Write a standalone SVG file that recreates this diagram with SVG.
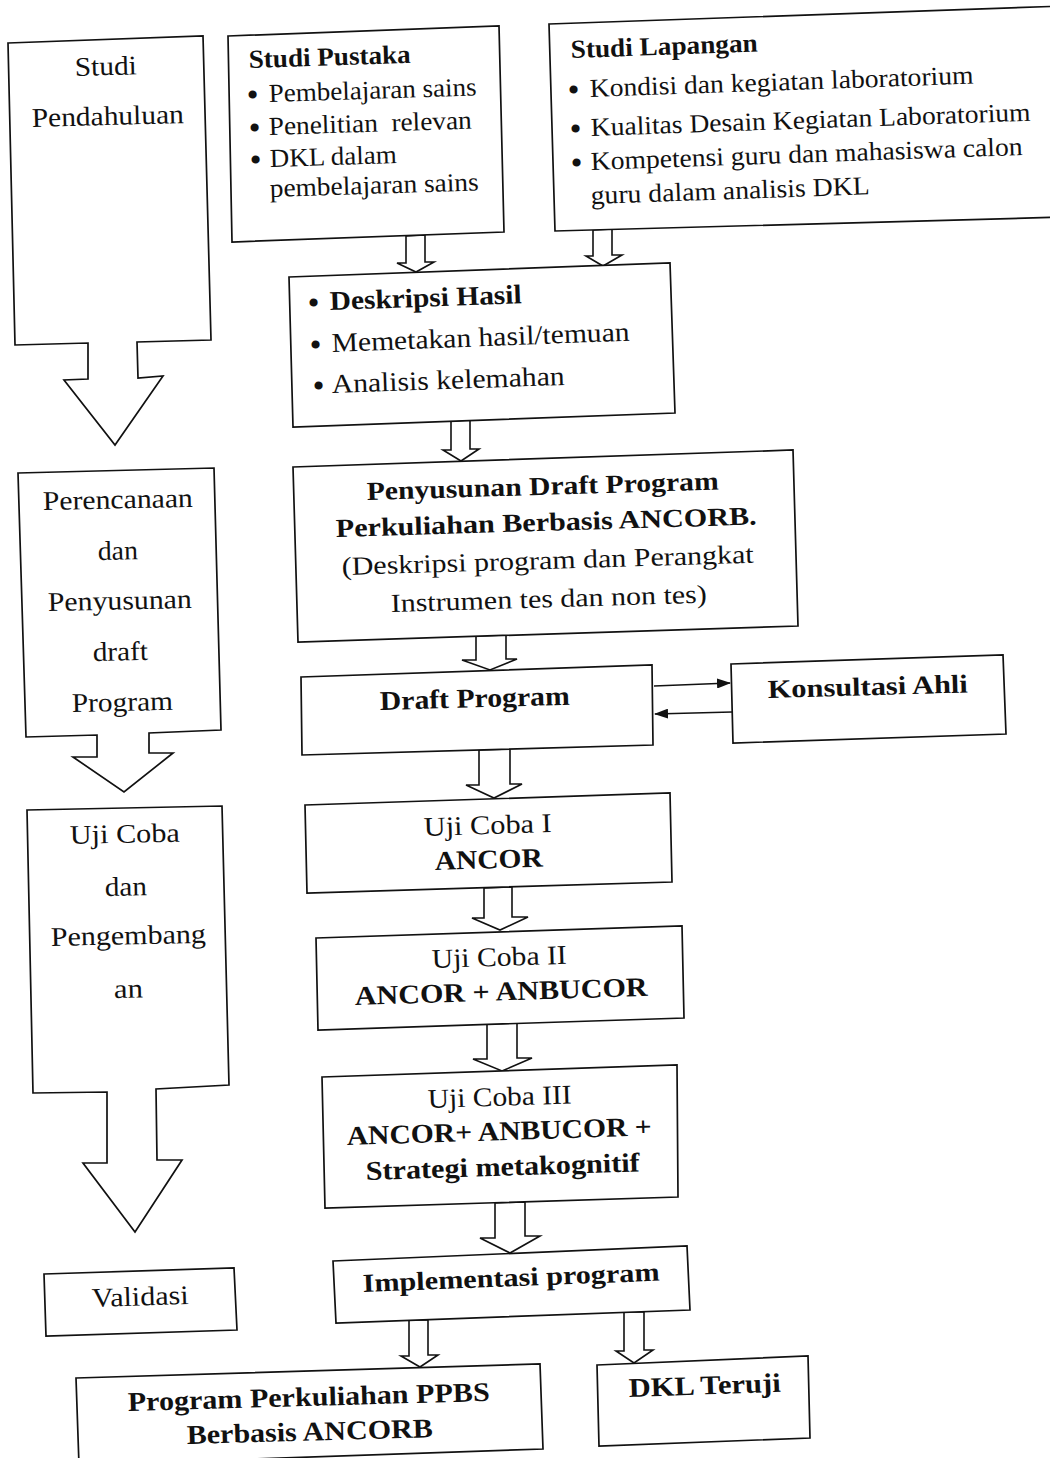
<svg xmlns="http://www.w3.org/2000/svg" width="1050" height="1458" viewBox="0 0 1050 1458">
<style>
.box{fill:#fff;stroke:#111;stroke-width:1.7;stroke-linejoin:miter}
.blk{fill:#fff;stroke:#111;stroke-width:1.6;stroke-linejoin:miter}
.ln{fill:none;stroke:#111;stroke-width:1.7}
.t{font-family:"Liberation Serif","Times New Roman",serif;font-size:26px;fill:#111}
.b{font-weight:bold}
.L{font-size:27px}
.bu{font-family:"Liberation Serif","Times New Roman",serif;font-size:34px;fill:#111}
</style>
<defs>
<marker id="ah" viewBox="0 0 14 10" markerWidth="14" markerHeight="10" refX="13" refY="5" orient="auto" markerUnits="userSpaceOnUse">
<path d="M0,0 L14,5 L0,10 z" fill="#111"/>
</marker>
</defs>
<rect x="0" y="0" width="1050" height="1458" fill="#fff"/>

<g id="connectors">
<polygon class="blk" points="406,236 406,263 397,263 416,272 434,262 425,262 425,235"/>
<polygon class="blk" points="593,230 593,256 586,256 603,266 622,255 612,255 612,229"/>
<polygon class="blk" points="451,421 451,450 443,450 461,461 479,449 470,449 470,420"/>
<polygon class="blk" points="476,636 476,660 462,660 490,670 517,659 506,659 506,635"/>
<polygon class="blk" points="479,750 479,785 466,785 494,798 522,784 510,784 510,749"/>
<polygon class="blk" points="484,888 484,918 472,918 500,930 528,917 512,917 512,887"/>
<polygon class="blk" points="487,1024 487,1059 473,1059 502,1071 532,1058 517,1058 517,1023"/>
<polygon class="blk" points="495,1203 495,1238 480,1238 510,1253 540,1236 525,1236 525,1202"/>
<polygon class="blk" points="409,1320 409,1356 401,1356 420,1367 438,1355 428,1355 428,1320"/>
<polygon class="blk" points="624,1312 624,1351 616,1351 634,1363 653,1350 644,1350 644,1312"/>
<line class="ln" x1="654" y1="686" x2="730" y2="683" marker-end="url(#ah)"/>
<line class="ln" x1="732" y1="712" x2="655" y2="714" marker-end="url(#ah)"/>
</g>

<g id="studi-pendahuluan">
<polygon class="box" points="8,43 203,36 211,340 137,342 138,378 163,376 115,445 64,380 88,379 88,343 15,345"/>
<text class="t L" x="75" y="76" textLength="62" lengthAdjust="spacingAndGlyphs" transform="rotate(-1.5 75 76)">Studi</text>
<text class="t L" x="32" y="127" textLength="152" lengthAdjust="spacingAndGlyphs" transform="rotate(-1.5 32 127)">Pendahuluan</text>
</g>

<g id="studi-pustaka">
<polygon class="box" points="228,36 499,26 504,232 232,242"/>
<text class="t b" x="249" y="68" textLength="162" lengthAdjust="spacingAndGlyphs" transform="rotate(-1.8 249 68)">Studi Pustaka</text>
<text class="bu" x="247" y="106" transform="rotate(-1.8 247 106)">•</text>
<text class="t" x="269" y="102" textLength="208" lengthAdjust="spacingAndGlyphs" transform="rotate(-1.8 269 102)">Pembelajaran sains</text>
<text class="bu" x="249" y="139" transform="rotate(-1.8 249 139)">•</text>
<text class="t" x="269" y="135" textLength="203" lengthAdjust="spacingAndGlyphs" xml:space="preserve" transform="rotate(-1.8 269 135)">Penelitian  relevan</text>
<text class="bu" x="250" y="171" transform="rotate(-1.8 250 171)">•</text>
<text class="t" x="270" y="167" textLength="127" lengthAdjust="spacingAndGlyphs" transform="rotate(-1.8 270 167)">DKL dalam</text>
<text class="t" x="270" y="197" textLength="209" lengthAdjust="spacingAndGlyphs" transform="rotate(-1.8 270 197)">pembelajaran sains</text>
</g>

<g id="studi-lapangan">
<polygon class="box" points="549,24 1065,6 1065,217 555,231"/>
<text class="t b" x="571" y="58" textLength="187" lengthAdjust="spacingAndGlyphs" transform="rotate(-2 571 58)">Studi Lapangan</text>
<text class="bu" x="568" y="101" transform="rotate(-2 568 101)">•</text>
<text class="t" x="590" y="97" textLength="384" lengthAdjust="spacingAndGlyphs" transform="rotate(-2 590 97)">Kondisi dan kegiatan laboratorium</text>
<text class="bu" x="570" y="140" transform="rotate(-2 570 140)">•</text>
<text class="t" x="591" y="136" textLength="440" lengthAdjust="spacingAndGlyphs" transform="rotate(-2 591 136)">Kualitas Desain Kegiatan Laboratorium</text>
<text class="bu" x="571" y="174" transform="rotate(-2 571 174)">•</text>
<text class="t" x="591" y="170" textLength="432" lengthAdjust="spacingAndGlyphs" transform="rotate(-2 591 170)">Kompetensi guru dan mahasiswa calon</text>
<text class="t" x="591" y="204" textLength="279" lengthAdjust="spacingAndGlyphs" transform="rotate(-2 591 204)">guru dalam analisis DKL</text>
</g>

<g id="deskripsi">
<polygon class="box" points="289,277 670,263 675,413 293,427"/>
<text class="bu" x="308" y="314" transform="rotate(-2 308 314)">•</text>
<text class="t L b" x="330" y="310" textLength="192" lengthAdjust="spacingAndGlyphs" transform="rotate(-2 330 310)">Deskripsi Hasil</text>
<text class="bu" x="310" y="356" transform="rotate(-2 310 356)">•</text>
<text class="t L" x="332" y="352" textLength="298" lengthAdjust="spacingAndGlyphs" transform="rotate(-2.2 332 352)">Memetakan hasil/temuan</text>
<text class="bu" x="313" y="397" transform="rotate(-2 313 397)">•</text>
<text class="t L" x="332" y="393" textLength="233" lengthAdjust="spacingAndGlyphs" transform="rotate(-2 332 393)">Analisis kelemahan</text>
</g>

<g id="penyusunan">
<polygon class="box" points="293,467 793,450 798,626 298,642"/>
<text class="t b" x="367" y="500" textLength="352" lengthAdjust="spacingAndGlyphs" transform="rotate(-1.7 367 500)">Penyusunan Draft Program</text>
<text class="t b" x="336" y="537" textLength="421" lengthAdjust="spacingAndGlyphs" transform="rotate(-1.7 336 537)">Perkuliahan Berbasis ANCORB.</text>
<text class="t" x="342" y="575" textLength="412" lengthAdjust="spacingAndGlyphs" transform="rotate(-1.7 342 575)">(Deskripsi program dan Perangkat</text>
<text class="t" x="391" y="612" textLength="316" lengthAdjust="spacingAndGlyphs" transform="rotate(-1.7 391 612)">Instrumen tes dan non tes)</text>
</g>

<g id="draft-program">
<polygon class="box" points="301,677 652,665 653,745 302,755"/>
<text class="t L b" x="380" y="710" textLength="190" lengthAdjust="spacingAndGlyphs" transform="rotate(-1.6 380 710)">Draft Program</text>
</g>

<g id="konsultasi-ahli">
<polygon class="box" points="731,664 1003,655 1006,734 733,743"/>
<text class="t b" x="768" y="698" textLength="200" lengthAdjust="spacingAndGlyphs" transform="rotate(-1.6 768 698)">Konsultasi Ahli</text>
</g>

<g id="uji-coba-1">
<polygon class="box" points="305,805 670,793 672,882 307,893"/>
<text class="t L" x="424" y="836" textLength="128" lengthAdjust="spacingAndGlyphs" transform="rotate(-1.8 424 836)">Uji Coba I</text>
<text class="t L b" x="435" y="870" textLength="108" lengthAdjust="spacingAndGlyphs" transform="rotate(-1.8 435 870)">ANCOR</text>
</g>

<g id="uji-coba-2">
<polygon class="box" points="316,938 682,926 684,1018 318,1030"/>
<text class="t L" x="432" y="968" textLength="135" lengthAdjust="spacingAndGlyphs" transform="rotate(-1.8 432 968)">Uji Coba II</text>
<text class="t L b" x="355" y="1005" textLength="293" lengthAdjust="spacingAndGlyphs" transform="rotate(-1.8 355 1005)">ANCOR + ANBUCOR</text>
</g>

<g id="uji-coba-3">
<polygon class="box" points="322,1077 677,1065 678,1197 325,1208"/>
<text class="t L" x="428" y="1108" textLength="144" lengthAdjust="spacingAndGlyphs" transform="rotate(-1.8 428 1108)">Uji Coba III</text>
<text class="t L b" x="347" y="1145" textLength="305" lengthAdjust="spacingAndGlyphs" transform="rotate(-1.8 347 1145)">ANCOR+ ANBUCOR +</text>
<text class="t L b" x="366" y="1180" textLength="274" lengthAdjust="spacingAndGlyphs" transform="rotate(-1.8 366 1180)">Strategi metakognitif</text>
</g>

<g id="implementasi">
<polygon class="box" points="333,1261 687,1246 690,1310 336,1323"/>
<text class="t b" x="363" y="1292" textLength="297" lengthAdjust="spacingAndGlyphs" transform="rotate(-2.2 363 1292)">Implementasi program</text>
</g>

<g id="program-ppbs">
<polygon class="box" points="76,1378 540,1364 543,1449 79,1465"/>
<text class="t L b" x="128" y="1411" textLength="362" lengthAdjust="spacingAndGlyphs" transform="rotate(-1.6 128 1411)">Program Perkuliahan PPBS</text>
<text class="t L b" x="187" y="1444" textLength="246" lengthAdjust="spacingAndGlyphs" transform="rotate(-1.6 187 1444)">Berbasis ANCORB</text>
</g>

<g id="dkl-teruji">
<polygon class="box" points="597,1365 808,1356 810,1438 599,1446"/>
<text class="t L b" x="629" y="1397" textLength="152" lengthAdjust="spacingAndGlyphs" transform="rotate(-2 629 1397)">DKL Teruji</text>
</g>

<g id="perencanaan">
<polygon class="box" points="18,473 214,468 221,730 149,733 149,753 173,753 124,792 73,757 97,757 97,735 26,737"/>
<text class="t L" x="43" y="510" textLength="150" lengthAdjust="spacingAndGlyphs" transform="rotate(-1.2 43 510)">Perencanaan</text>
<text class="t L" x="98" y="560" textLength="40" lengthAdjust="spacingAndGlyphs" transform="rotate(-1.2 98 560)">dan</text>
<text class="t L" x="48" y="611" textLength="144" lengthAdjust="spacingAndGlyphs" transform="rotate(-1.2 48 611)">Penyusunan</text>
<text class="t L" x="93" y="661" textLength="55" lengthAdjust="spacingAndGlyphs" transform="rotate(-1.2 93 661)">draft</text>
<text class="t L" x="72" y="712" textLength="101" lengthAdjust="spacingAndGlyphs" transform="rotate(-1.2 72 712)">Program</text>
</g>

<g id="uji-coba-kiri">
<polygon class="box" points="27,810 222,806 229,1085 156,1089 157,1160 182,1160 135,1232 83,1163 107,1163 107,1092 33,1093"/>
<text class="t L" x="70" y="844" textLength="110" lengthAdjust="spacingAndGlyphs" transform="rotate(-1.2 70 844)">Uji Coba</text>
<text class="t L" x="105" y="896" textLength="42" lengthAdjust="spacingAndGlyphs" transform="rotate(-1.2 105 896)">dan</text>
<text class="t L" x="51" y="946" textLength="155" lengthAdjust="spacingAndGlyphs" transform="rotate(-1.2 51 946)">Pengembang</text>
<text class="t L" x="114" y="998" textLength="29" lengthAdjust="spacingAndGlyphs" transform="rotate(-1.2 114 998)">an</text>
</g>

<g id="validasi">
<polygon class="box" points="44,1274 234,1268 237,1330 46,1336"/>
<text class="t L" x="92" y="1307" textLength="97" lengthAdjust="spacingAndGlyphs" transform="rotate(-1.8 92 1307)">Validasi</text>
</g>
</svg>
